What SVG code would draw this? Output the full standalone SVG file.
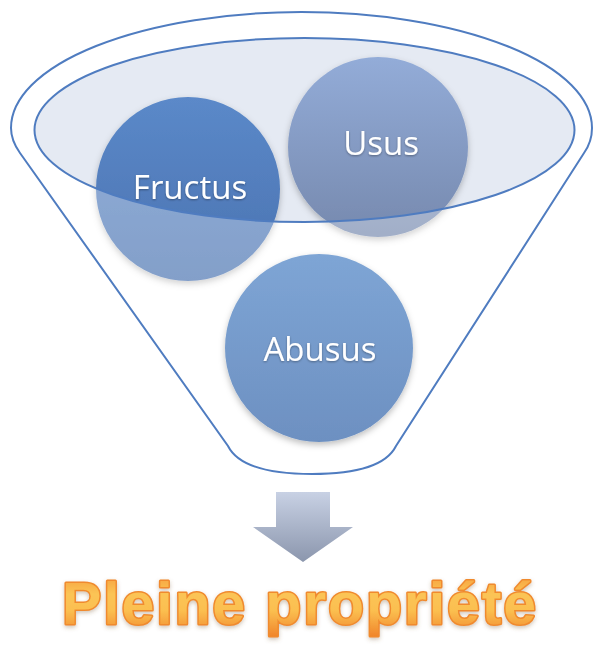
<svg xmlns="http://www.w3.org/2000/svg" width="594" height="645" viewBox="0 0 594 645">
<defs>
<linearGradient id="gF" x1="0" y1="0" x2="0" y2="1"><stop offset="0" stop-color="#5b89c9"/><stop offset="1" stop-color="#4a72b0"/></linearGradient>
<linearGradient id="gU" x1="0" y1="0" x2="0" y2="1"><stop offset="0" stop-color="#93acd8"/><stop offset="1" stop-color="#7689ae"/></linearGradient>
<linearGradient id="gA" x1="0" y1="0" x2="0" y2="1"><stop offset="0" stop-color="#7ea5d5"/><stop offset="1" stop-color="#6d90c1"/></linearGradient>
<linearGradient id="gArrow" x1="0" y1="0" x2="0" y2="1"><stop offset="0" stop-color="#c8d1e4"/><stop offset="1" stop-color="#8b96ad"/></linearGradient>
<linearGradient id="gTitle" x1="0" y1="0" x2="0" y2="1"><stop offset="0" stop-color="#f59a3a"/><stop offset="0.35" stop-color="#fbc455"/><stop offset="0.6" stop-color="#fbbf50"/><stop offset="1" stop-color="#f0842a"/></linearGradient>
<filter id="sh" x="-20%" y="-20%" width="140%" height="150%"><feDropShadow dx="0" dy="3" stdDeviation="3" flood-color="#000" flood-opacity="0.25"/></filter>
<filter id="tsh" x="-10%" y="-20%" width="120%" height="150%"><feDropShadow dx="0" dy="1" stdDeviation="1" flood-color="#000" flood-opacity="0.35"/></filter>
<filter id="ttl" x="-5%" y="-20%" width="110%" height="150%"><feDropShadow dx="0" dy="2" stdDeviation="2" flood-color="#7a5a30" flood-opacity="0.35"/></filter>
</defs>
<style>
.lbl{font-family:"Open Sans","Liberation Sans",sans-serif;font-size:33px;fill:#ffffff;text-anchor:middle;}
.rim{fill:none;stroke:#4f7cc0;stroke-width:2;}
</style>
<rect width="594" height="645" fill="#ffffff"/>
<g id="funnel-back">
<ellipse cx="304.5" cy="130" rx="270" ry="92" fill="#e5eaf3"/>
</g>
<g id="fructus" filter="url(#sh)">
<circle cx="188" cy="189" r="92" fill="url(#gF)"/>
</g>
<g id="usus" filter="url(#sh)">
<circle cx="378" cy="147" r="90" fill="url(#gU)"/>
</g>
<g id="funnel">
<path d="M 11,128 A 290.5 116 0 0 1 592,128 C 592,138 589,146 584,153 L 396,446 Q 382,474 312,474 Q 242,474 228,446 L 20,153 C 15,146 11,138 11,128 Z M 34.5,130 A 270 92 0 1 0 574.5,130 A 270 92 0 1 0 34.5,130 Z" fill="#ffffff" fill-opacity="0.32" fill-rule="evenodd"/>
<path class="rim" d="M 11,128 A 290.5 116 0 0 1 592,128 C 592,138 589,146 584,153 L 396,446 Q 382,474 312,474 Q 242,474 228,446 L 20,153 C 15,146 11,138 11,128 Z"/>
<ellipse class="rim" cx="304.5" cy="130" rx="270" ry="92"/>
</g>
<g id="abusus" filter="url(#sh)">
<circle cx="319" cy="348" r="94" fill="url(#gA)"/>
</g>
<g id="labels" filter="url(#tsh)">
<text class="lbl" x="190" y="199">Fructus</text>
<text class="lbl" x="381" y="155">Usus</text>
<text class="lbl" x="320" y="361">Abusus</text>
</g>
<g id="connectors">
<path d="M 276,492 L 330,492 L 330,527 L 353,527 L 303,562 L 253,527 L 276,527 Z" fill="url(#gArrow)"/>
</g>
<g id="title" filter="url(#ttl)">
<text x="62" y="624" textLength="474" lengthAdjust="spacing" font-family="Liberation Sans, Arial, sans-serif" font-weight="bold" font-size="59" fill="url(#gTitle)" stroke="#f08a2e" stroke-width="3" stroke-linejoin="round" paint-order="stroke">Pleine propriété</text>
</g>
</svg>
